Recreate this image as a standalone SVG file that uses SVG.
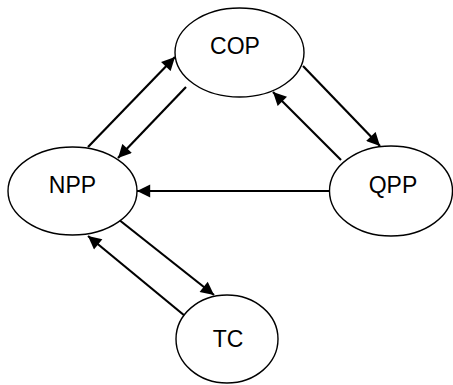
<svg xmlns="http://www.w3.org/2000/svg" width="453" height="385" viewBox="0 0 453 385">
  <style>
    .node ellipse { fill: #ffffff; stroke: #000000; stroke-width: 1.4; }
    .node text { font-family: "Liberation Sans", Arial, sans-serif; font-size: 23px; fill: #000000; text-anchor: middle; }
    .edges line { stroke: #000000; stroke-width: 2.2; marker-end: url(#arrow); }
  </style>
  <defs>
    <marker id="arrow" viewBox="0 0 12 12" refX="12" refY="6" markerWidth="6.4" markerHeight="6" markerUnits="strokeWidth" orient="auto">
      <path d="M0,0 L12,6 L0,12 Z" fill="#000000"/>
    </marker>
  </defs>

  <rect width="453" height="385" fill="#ffffff"/>

  <g class="edges">
    <!-- NPP to COP -->
    <line x1="88" y1="147" x2="175" y2="57"/>
    <!-- COP to NPP -->
    <line x1="186" y1="87" x2="118" y2="158"/>
    <!-- COP to QPP -->
    <line x1="303" y1="66" x2="380" y2="146"/>
    <!-- QPP to COP -->
    <line x1="341" y1="160" x2="273" y2="92"/>
    <!-- QPP to NPP -->
    <line x1="330" y1="191" x2="137" y2="191"/>
    <!-- NPP to TC -->
    <line x1="118" y1="219" x2="214" y2="295"/>
    <!-- TC to NPP -->
    <line x1="185" y1="316" x2="88" y2="236"/>
  </g>

  <g id="COP" class="node">
    <ellipse cx="239.5" cy="52.5" rx="64.5" ry="44.5"/>
    <text x="235" y="54">COP</text>
  </g>
  <g id="NPP" class="node">
    <ellipse cx="72.5" cy="191" rx="64.5" ry="44"/>
    <text x="72.5" y="193">NPP</text>
  </g>
  <g id="QPP" class="node">
    <ellipse cx="391" cy="191" rx="61.5" ry="45"/>
    <text x="393" y="193">QPP</text>
  </g>
  <g id="TC" class="node">
    <ellipse cx="227" cy="339" rx="51" ry="44"/>
    <text x="228" y="347">TC</text>
  </g>
</svg>
